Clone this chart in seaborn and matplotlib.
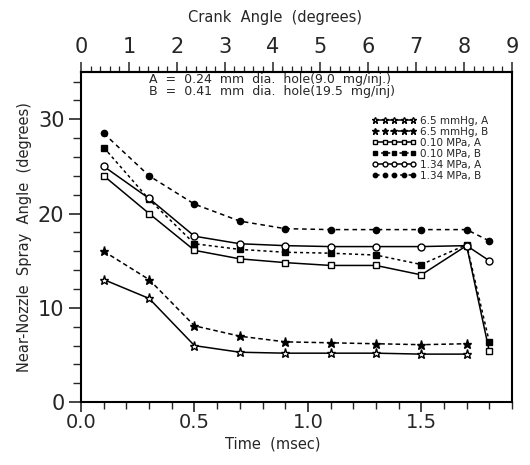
import numpy as np
import pandas as pd
import matplotlib
matplotlib.use("Agg")
import matplotlib.pyplot as plt
from matplotlib.ticker import MultipleLocator
import seaborn as sns

# estilo base
sns.set_style("ticks")
plt.rcParams['font.family'] = ['DejaVu Sans']

# dados (tempo em msec, angulo em graus)
tempo = [0.1, 0.3, 0.5, 0.7, 0.9, 1.1, 1.3, 1.5, 1.7, 1.8]
tempo_curto = [0.1, 0.3, 0.5, 0.7, 0.9, 1.1, 1.3, 1.5, 1.7]

mmhg_a = [13.0, 11.0, 6.0, 5.3, 5.2, 5.2, 5.2, 5.1, 5.1]
mmhg_b = [16.0, 13.0, 8.1, 7.0, 6.4, 6.3, 6.2, 6.1, 6.2]
mpa010_a = [24.0, 20.0, 16.1, 15.2, 14.8, 14.5, 14.5, 13.5, 16.6, 5.4]
mpa010_b = [27.0, 21.5, 16.8, 16.2, 15.9, 15.8, 15.6, 14.6, 16.7, 6.4]
mpa134_a = [25.0, 21.6, 17.6, 16.8, 16.6, 16.5, 16.5, 16.5, 16.6, 15.0]
mpa134_b = [28.5, 24.0, 21.0, 19.2, 18.4, 18.3, 18.3, 18.3, 18.3, 17.1]

rotulos = ["6.5 mmHg, A", "6.5 mmHg, B", "0.10 MPa, A",
           "0.10 MPa, B", "1.34 MPa, A", "1.34 MPa, B"]

crank_ticks = list(range(10))

fig = plt.figure(figsize=(5.3, 4.65), dpi=100)
ax = fig.add_axes([0.153, 0.135, 0.813, 0.71])

series = [
    (tempo_curto, mmhg_a, '*', 'white', '-', 6.5),
    (tempo_curto, mmhg_b, '*', 'black', (0, (3, 2)), 6.5),
    (tempo, mpa010_a, 's', 'white', '-', 4.5),
    (tempo, mpa010_b, 's', 'black', (0, (2, 2)), 4.5),
    (tempo, mpa134_a, 'o', 'white', '-', 5),
    (tempo, mpa134_b, 'o', 'black', (0, (3, 2.5)), 4.5),
]

for (xs, ys, mk, face, ls, ms), lab in zip(series, rotulos):
    sns.lineplot(x=xs, y=ys, ax=ax, color='black', marker=mk,
                 markerfacecolor=face, markeredgecolor='black',
                 markeredgewidth=1.0, markersize=ms, linestyle=ls,
                 linewidth=1.1, label=lab)

ax.set_xlim(0, 1.9)
ax.set_ylim(0, 35)
ax.xaxis.set_major_locator(MultipleLocator(0.5))
ax.xaxis.set_minor_locator(MultipleLocator(0.1))
ax.yaxis.set_major_locator(MultipleLocator(10))
ax.yaxis.set_minor_locator(MultipleLocator(2))
ax.set_xticklabels([f"{v:.1f}" for v in ax.get_xticks()])

ax.tick_params(axis='x', which='major', direction='out', length=7, width=1.2,
               labelsize=14, pad=1, top=False)
ax.tick_params(axis='x', which='minor', direction='out', length=5, width=1.0, top=False)
ax.tick_params(axis='y', which='major', direction='out', length=9, width=1.2,
               labelsize=15, pad=3, right=False)
ax.tick_params(axis='y', which='minor', direction='out', length=6, width=1.0, right=False)

for s in ax.spines.values():
    s.set_linewidth(1.5)
    s.set_color('black')

ax.set_xlabel('Time  (msec)', fontsize=10.5)
ax.xaxis.set_label_coords(0.445, -0.105)
ax.set_ylabel('Near-Nozzle  Spray  Angle  (degrees)', fontsize=10.5)
ax.yaxis.set_label_coords(-0.115, 0.5)

# eixo de cima: angulo do virabrequim
topo = ax.secondary_xaxis('top', functions=(lambda t: t * 9 / 1.9, lambda c: c * 1.9 / 9))
topo.set_xticks(crank_ticks)
topo.xaxis.set_minor_locator(MultipleLocator(0.2))
topo.tick_params(which='major', direction='out', length=7, width=1.1, labelsize=15, pad=4)
topo.tick_params(which='minor', direction='out', length=4, width=0.9)
topo.spines['top'].set_linewidth(1.5)
topo.set_xlabel('Crank  Angle  (degrees)', fontsize=10.5, labelpad=11)
topo.xaxis.label.set_x(0.45)

ax.text(0.3, 34.2, 'A  =  0.24  mm  dia.  hole(9.0  mg/inj.)', fontsize=9, va='center')
ax.text(0.3, 32.9, 'B  =  0.41  mm  dia.  hole(19.5  mg/inj)', fontsize=9, va='center')

ax.legend(loc='upper right', bbox_to_anchor=(0.955, 0.88), frameon=False,
          numpoints=5, fontsize=7.5, handlelength=4.2, handletextpad=0.4,
          labelspacing=0.1, markerscale=0.7, borderaxespad=0)

fig.savefig('out.png', dpi=100)
